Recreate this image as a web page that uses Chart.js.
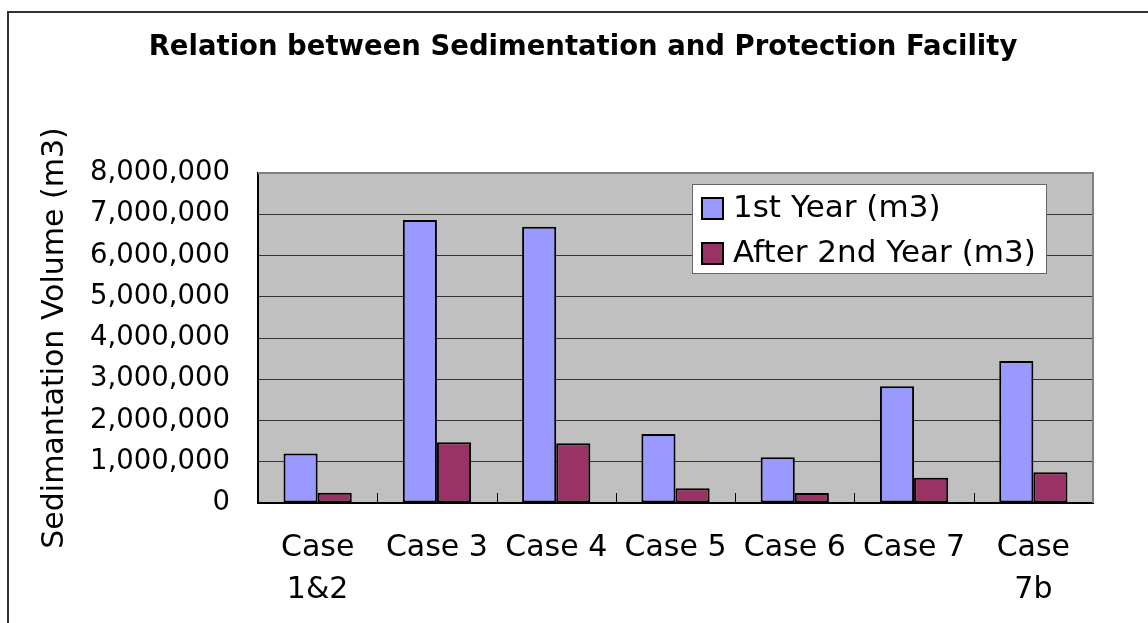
<!DOCTYPE html>
<html>
<head>
<meta charset="utf-8">
<script src="https://cdn.jsdelivr.net/npm/chart.js@4.4.1/dist/chart.umd.min.js"></script>
<style>
  html, body { margin: 0; padding: 0; background: #ffffff; }
  #wrap { width: 1148px; height: 623px; }
</style>
</head>
<body>
<div id="wrap"><canvas id="c" width="1148" height="623"></canvas></div>
<script>
// Sedimentation volume per case (m3)
const categories = [["Case", "1&2"], "Case 3", "Case 4", "Case 5", "Case 6", "Case 7", ["Case", "7b"]];
const firstYear = [1200000, 6860000, 6700000, 1670000, 1110000, 2830000, 3440000];
const afterSecondYear = [250000, 1470000, 1450000, 360000, 240000, 610000, 745000];
const seriesNames = ["1st Year (m3)", "After 2nd Year (m3)"];
const yTicks = [0, 1000000, 2000000, 3000000, 4000000, 5000000, 6000000, 7000000, 8000000];
const chartTitle = 'Relation between Sedimentation and Protection Facility';

const FONT = "'DejaVu Sans', sans-serif";

// Outer frame, title, plot background and the plot's top/right edges
const framePlugin = {
  id: 'frame',
  beforeDraw(chart) {
    const { ctx, chartArea: a } = chart;
    ctx.save();
    ctx.fillStyle = '#c0c0c0';
    ctx.fillRect(a.left, a.top, a.right - a.left, a.bottom - a.top);
    ctx.strokeStyle = '#333333';
    ctx.lineWidth = 2;
    ctx.beginPath();
    ctx.moveTo(8, 623);
    ctx.lineTo(8, 12);
    ctx.lineTo(1148, 12);
    ctx.stroke();
    ctx.fillStyle = '#000000';
    ctx.font = 'bold 27.5px ' + FONT;
    ctx.textAlign = 'center';
    ctx.textBaseline = 'middle';
    ctx.fillText(chartTitle, 583, 48);
    ctx.restore();
  },
  afterDatasetsDraw(chart) {
    const { ctx, chartArea: a, scales } = chart;
    ctx.save();
    ctx.strokeStyle = '#808080';
    ctx.lineWidth = 2;
    ctx.beginPath();
    ctx.moveTo(a.left, a.top);
    ctx.lineTo(a.right, a.top);
    ctx.lineTo(a.right, a.bottom);
    ctx.stroke();
    // category divider tick marks along the bottom axis
    const x = scales.x;
    ctx.strokeStyle = '#000000';
    ctx.lineWidth = 1;
    for (let i = 1; i < categories.length; i++) {
      const px = Math.round((x.getPixelForTick(i - 1) + x.getPixelForTick(i)) / 2) + 0.5;
      ctx.beginPath();
      ctx.moveTo(px, a.bottom);
      ctx.lineTo(px, a.bottom - 10);
      ctx.stroke();
    }
    ctx.restore();
  }
};

// Boxed legend inside the plot area
const boxLegendPlugin = {
  id: 'boxLegend',
  afterDraw(chart) {
    const { ctx, chartArea: a } = chart;
    const left = a.right - 401, top = a.top + 11, w = 354, h = 89;
    ctx.save();
    ctx.fillStyle = '#ffffff';
    ctx.fillRect(left, top, w, h);
    ctx.strokeStyle = '#666666';
    ctx.lineWidth = 1;
    ctx.strokeRect(left + 0.5, top + 0.5, w, h);
    ctx.font = '31px ' + FONT;
    ctx.textBaseline = 'middle';
    chart.data.datasets.forEach((ds, i) => {
      const cy = top + 24 + i * 45;
      ctx.fillStyle = ds.backgroundColor;
      ctx.fillRect(left + 10, cy - 10, 21, 21);
      ctx.strokeStyle = '#000000';
      ctx.lineWidth = 2;
      ctx.strokeRect(left + 10, cy - 10, 21, 21);
      ctx.fillStyle = '#000000';
      ctx.fillText(ds.label, left + 41, cy + 1);
    });
    ctx.restore();
  }
};

new Chart(document.getElementById('c'), {
  type: 'bar',
  data: {
    labels: categories,
    datasets: [
      { label: seriesNames[0], data: firstYear, backgroundColor: '#9999ff', borderColor: '#000000', borderWidth: 2, borderSkipped: false },
      { label: seriesNames[1], data: afterSecondYear, backgroundColor: '#993366', borderColor: '#000000', borderWidth: 2, borderSkipped: false }
    ]
  },
  options: {
    responsive: false,
    animation: false,
    events: [],
    layout: { padding: { left: 30, right: 55, top: 173, bottom: 0 } },
    datasets: { bar: { categoryPercentage: 0.572, barPercentage: 1.0 } },
    plugins: {
      legend: { display: false },
      tooltip: { enabled: false },
      title: { display: false }
    },
    scales: {
      x: {
        grid: { display: false, drawTicks: false },
        border: { display: true, color: '#000000', width: 2 },
        ticks: {
          color: '#000000',
          font: { family: FONT, size: 30, lineHeight: 1.4 },
          padding: 24,
          maxRotation: 0,
          autoSkip: false
        },
        afterFit(scale) { scale.height = 120; }
      },
      y: {
        min: 0,
        max: 8000000,
        afterBuildTicks(scale) { scale.ticks = yTicks.map(v => ({ value: v })); },
        grid: { color: '#333333', lineWidth: 1, drawTicks: false },
        border: { display: true, color: '#000000', width: 2 },
        ticks: {
          color: '#000000',
          font: { family: FONT, size: 27.5 },
          padding: 28,
          callback: v => Number(v).toLocaleString('en-US')
        },
        title: {
          display: true,
          text: 'Sedimantation Volume (m3)',
          color: '#000000',
          font: { family: FONT, size: 30, lineHeight: 1.2 },
          padding: { top: 7, bottom: 0 }
        },
        afterFit(scale) { scale.width = 228; }
      }
    }
  },
  plugins: [framePlugin, boxLegendPlugin]
});
</script>
</body>
</html>
